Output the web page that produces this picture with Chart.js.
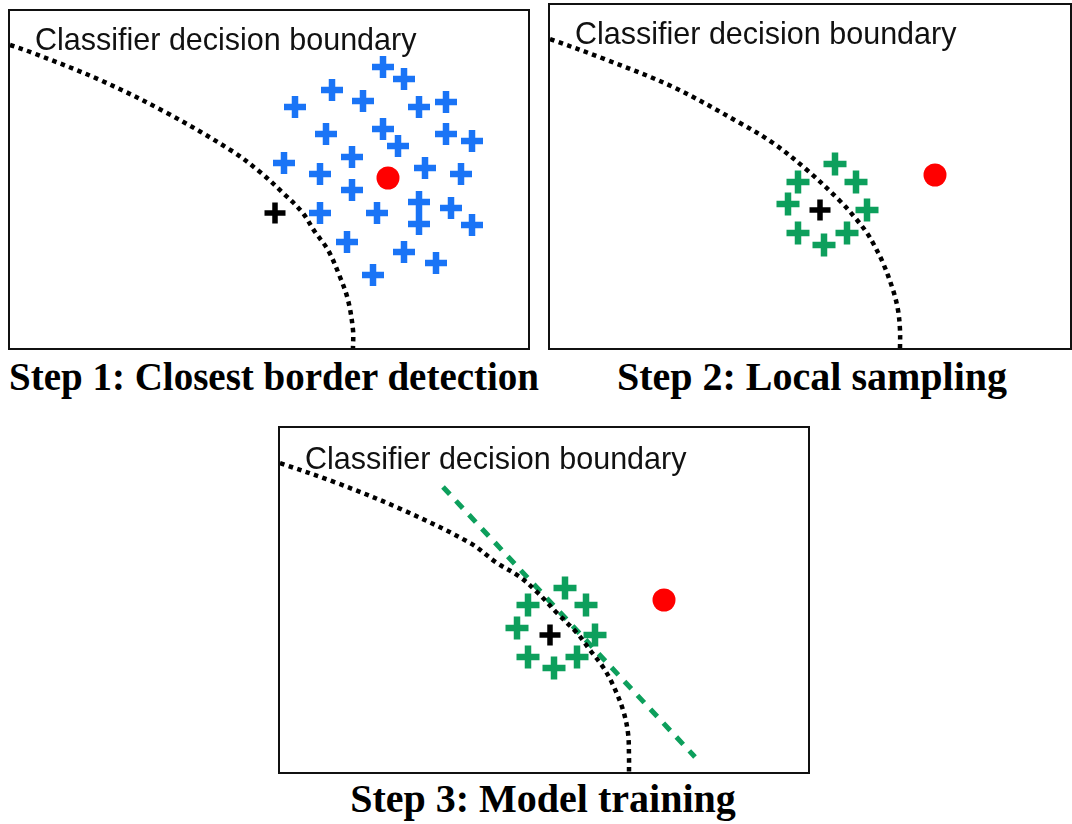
<!DOCTYPE html>
<html><head><meta charset="utf-8">
<script src="https://cdn.jsdelivr.net/npm/chart.js"></script>
<style>
html,body{margin:0;padding:0;background:#fff;width:1072px;height:824px;overflow:hidden;position:relative}
.panel{position:absolute;border:2px solid #111;box-sizing:content-box}
.panel canvas{display:block}
.lbl{position:absolute;font-family:"Liberation Sans",Arial,sans-serif;font-size:30.5px;line-height:30px;color:#111;white-space:nowrap}
.ttl{position:absolute;font-family:"Liberation Serif","Times New Roman",serif;font-weight:bold;font-size:40px;line-height:38px;color:#000;white-space:nowrap;transform:translateX(-50%)}
</style></head><body>

<div class="panel" style="left:8px;top:9px"><canvas id="c1" width="518" height="337"></canvas></div>
<div class="panel" style="left:548px;top:3px"><canvas id="c2" width="520" height="343"></canvas></div>
<div class="panel" style="left:278px;top:426px"><canvas id="c3" width="528" height="344"></canvas></div>

<div class="lbl" id="l1" style="left:35px;top:24px"></div>
<div class="lbl" id="l2" style="left:575px;top:18px"></div>
<div class="lbl" id="l3" style="left:305px;top:443px"></div>

<div class="ttl" id="t1" style="left:274px;top:358px;font-size:39px"></div>
<div class="ttl" id="t2" style="left:812px;top:358px"></div>
<div class="ttl" id="t3" style="left:543px;top:780px"></div>

<script>
// ---- text ----
const boundaryLabel = "Classifier decision boundary";
const stepTitles = ["Step 1: Closest border detection", "Step 2: Local sampling", "Step 3: Model training"];

// ---- panel extents (feature-space units) ----
const panelWidths = [518, 520, 528];
const panelHeights = [337, 343, 344];

// ---- Step 1 ----
const step1Boundary = [[0,303],[23,295],[90,268],[157,235],[222,197],[250,176],[273,155],[292,136],[305,116],[318,98],[330,71],[338,48],[343,18],[343,0]];
const step1Neighbors = [[373,281],[394,269],[322,258],[285,241],[353,247],[409,241],[436,246],[316,214],[373,219],[388,202],[436,214],[462,207],[274,185],[342,191],[310,174],[415,180],[451,174],[342,158],[409,146],[310,135],[367,135],[441,140],[409,124],[462,123],[337,106],[394,96],[426,85],[363,73]];
const step1Border = [[265,135]];
const step1Instance = [[378,170]];

// ---- Step 2 ----
const step2Boundary = [[0,309],[57,288],[123,261],[190,225],[223,205],[257,178],[290,147],[307,128],[317,115],[323,105],[333,85],[343,58],[348,38],[350,18],[350,0]];
const step2Samples = [[285,184],[248,166],[306,166],[238,144],[317,138],[248,115],[297,115],[274,103]];
const step2Border = [[270,138]];
const step2Instance = [[385,173]];

// ---- Step 3 ----
const step3Boundary = [[0,309],[57,289],[123,262],[190,229],[217,209],[240,195],[258,179],[277,159],[297,139],[310,122],[323,105],[333,87],[343,62],[348,39],[349,15],[349,0]];
const step3Samples = [[285,184],[248,167],[306,167],[237,144],[315,137],[248,115],[297,115],[274,104]];
const step3Border = [[270,137]];
const step3Instance = [[384,172]];
const step3Surrogate = [[163,285],[415,15]];

const BLUE = '#1a74f6', GREEN = '#0d9f5c', RED = '#ff0000', BLACK = '#000000';

const pts = a => a.map(p => ({x: p[0], y: p[1]}));

function boundaryDs(a){
  return {data: pts(a), showLine: true, borderColor: BLACK, borderWidth: 4.5, borderDash: [4.5,4.5],
          borderCapStyle: 'butt', pointRadius: 0, tension: 0.35, fill: false};
}
function crossDs(a, color, r, w){
  return {data: pts(a), showLine: false, pointStyle: 'cross', pointRadius: r, pointHoverRadius: r,
          pointBorderWidth: w, pointHoverBorderWidth: w, borderColor: color, backgroundColor: color};
}
function dotDs(a){
  return {data: pts(a), showLine: false, pointStyle: 'circle', pointRadius: 11.5, pointHoverRadius: 11.5,
          pointBorderWidth: 0, borderColor: RED, backgroundColor: RED};
}
function lineDs(a){
  return {data: pts(a), showLine: true, borderColor: GREEN, borderWidth: 5, borderDash: [10,9],
          pointRadius: 0, tension: 0, fill: false};
}

function makeChart(id, idx, datasets){
  return new Chart(document.getElementById(id), {
    type: 'scatter',
    data: {datasets},
    options: {
      responsive: false, animation: false, devicePixelRatio: 1, events: [],
      layout: {padding: 0, autoPadding: false},
      plugins: {legend: {display: false}, tooltip: {enabled: false}, title: {display: false}},
      scales: {
        x: {type: 'linear', min: 0, max: panelWidths[idx], display: false},
        y: {type: 'linear', min: 0, max: panelHeights[idx], display: false}
      }
    }
  });
}

makeChart('c1', 0, [
  boundaryDs(step1Boundary),
  crossDs(step1Border, BLACK, 10.5, 5.5),
  dotDs(step1Instance),
  crossDs(step1Neighbors, BLUE, 11, 6.5)
]);
makeChart('c2', 1, [
  boundaryDs(step2Boundary),
  crossDs(step2Border, BLACK, 10.5, 5.5),
  dotDs(step2Instance),
  crossDs(step2Samples, GREEN, 11.5, 6.5)
]);
makeChart('c3', 2, [
  boundaryDs(step3Boundary),
  lineDs(step3Surrogate),
  crossDs(step3Border, BLACK, 10.5, 5.5),
  dotDs(step3Instance),
  crossDs(step3Samples, GREEN, 11.5, 6.5)
]);

['l1','l2','l3'].forEach(id => document.getElementById(id).textContent = boundaryLabel);
['t1','t2','t3'].forEach((id,i) => document.getElementById(id).textContent = stepTitles[i]);
</script>
</body></html>
